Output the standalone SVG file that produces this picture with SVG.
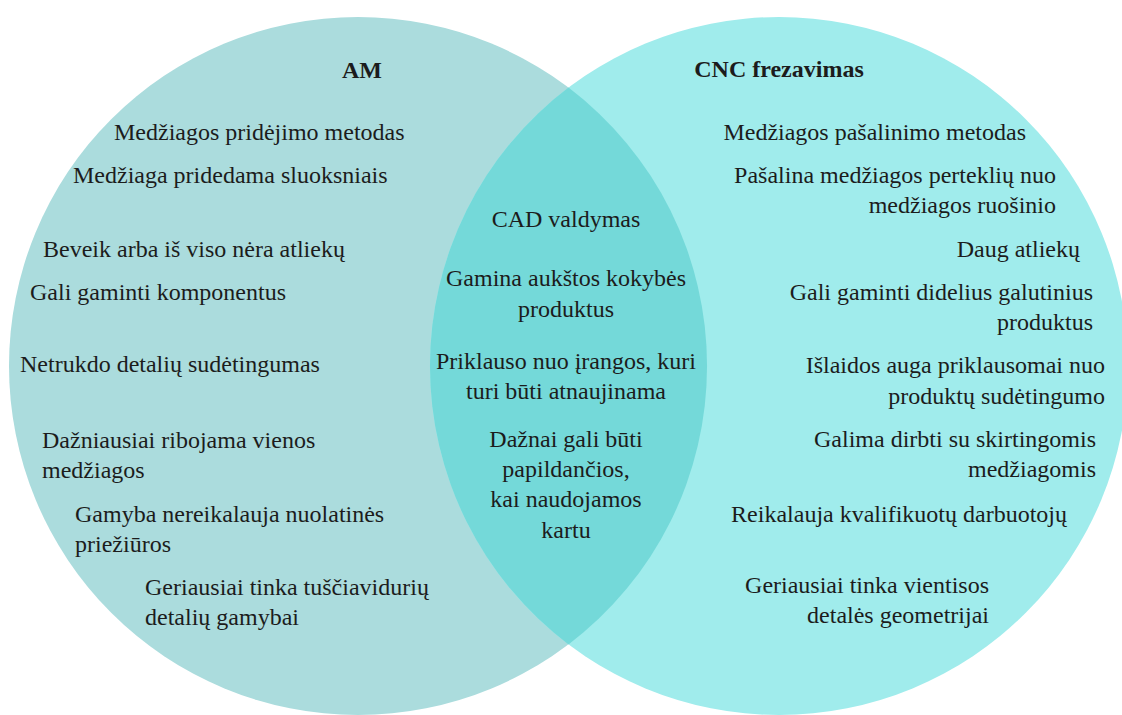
<svg xmlns="http://www.w3.org/2000/svg" width="1122" height="715" viewBox="0 0 1122 715">
<style>
text{font-family:"Liberation Serif","Times New Roman",serif;font-size:24px;fill:#1c1c1c}
.h{font-weight:bold;font-size:24px}
.l{text-anchor:start}
.r{text-anchor:end}
.c{text-anchor:middle}
</style>
<rect width="1122" height="715" fill="#ffffff"/>
<g id="circle-am"><circle cx="358" cy="366" r="349" fill="#abdcdd"/></g>
<g id="circle-cnc"><circle cx="779" cy="366" r="349" fill="#a0ecec"/></g>
<g id="overlap"><path d="M568.5,87.6 A349,349 0 0 1 568.5,644.4 A349,349 0 0 1 568.5,87.6 Z" fill="#74d9d9"/></g>
<g id="connectors"/>
<g id="am-labels" class="l">
<text class="h c" x="362" y="78">AM</text>
<text x="114" y="140">Medžiagos pridėjimo metodas</text>
<text x="73" y="183">Medžiaga pridedama sluoksniais</text>
<text x="43" y="257">Beveik arba iš viso nėra atliekų</text>
<text x="30" y="300">Gali gaminti komponentus</text>
<text x="20" y="372">Netrukdo detalių sudėtingumas</text>
<text x="42" y="448">Dažniausiai ribojama vienos</text>
<text x="42" y="478">medžiagos</text>
<text x="75" y="522">Gamyba nereikalauja nuolatinės</text>
<text x="75" y="552">priežiūros</text>
<text x="145" y="595">Geriausiai tinka tuščiavidurių</text>
<text x="145" y="625">detalių gamybai</text>
</g>
<g id="common-labels" class="c">
<text x="566" y="227">CAD valdymas</text>
<text x="566" y="286">Gamina aukštos kokybės</text>
<text x="566" y="317">produktus</text>
<text x="566" y="369">Priklauso nuo įrangos, kuri</text>
<text x="566" y="399">turi būti atnaujinama</text>
<text x="566" y="447">Dažnai gali būti</text>
<text x="566" y="477">papildančios,</text>
<text x="566" y="507">kai naudojamos</text>
<text x="566" y="538">kartu</text>
</g>
<g id="cnc-labels" class="r">
<text class="h c" x="779" y="77">CNC frezavimas</text>
<text x="1026" y="140">Medžiagos pašalinimo metodas</text>
<text x="1056" y="183">Pašalina medžiagos perteklių nuo</text>
<text x="1056" y="213">medžiagos ruošinio</text>
<text x="1080" y="257">Daug atliekų</text>
<text x="1093" y="300">Gali gaminti didelius galutinius</text>
<text x="1093" y="330">produktus</text>
<text x="1105" y="373">Išlaidos auga priklausomai nuo</text>
<text x="1105" y="404">produktų sudėtingumo</text>
<text x="1096" y="447">Galima dirbti su skirtingomis</text>
<text x="1096" y="477">medžiagomis</text>
<text x="1067" y="522">Reikalauja kvalifikuotų darbuotojų</text>
<text x="989" y="593">Geriausiai tinka vientisos</text>
<text x="989" y="623">detalės geometrijai</text>
</g>
</svg>
